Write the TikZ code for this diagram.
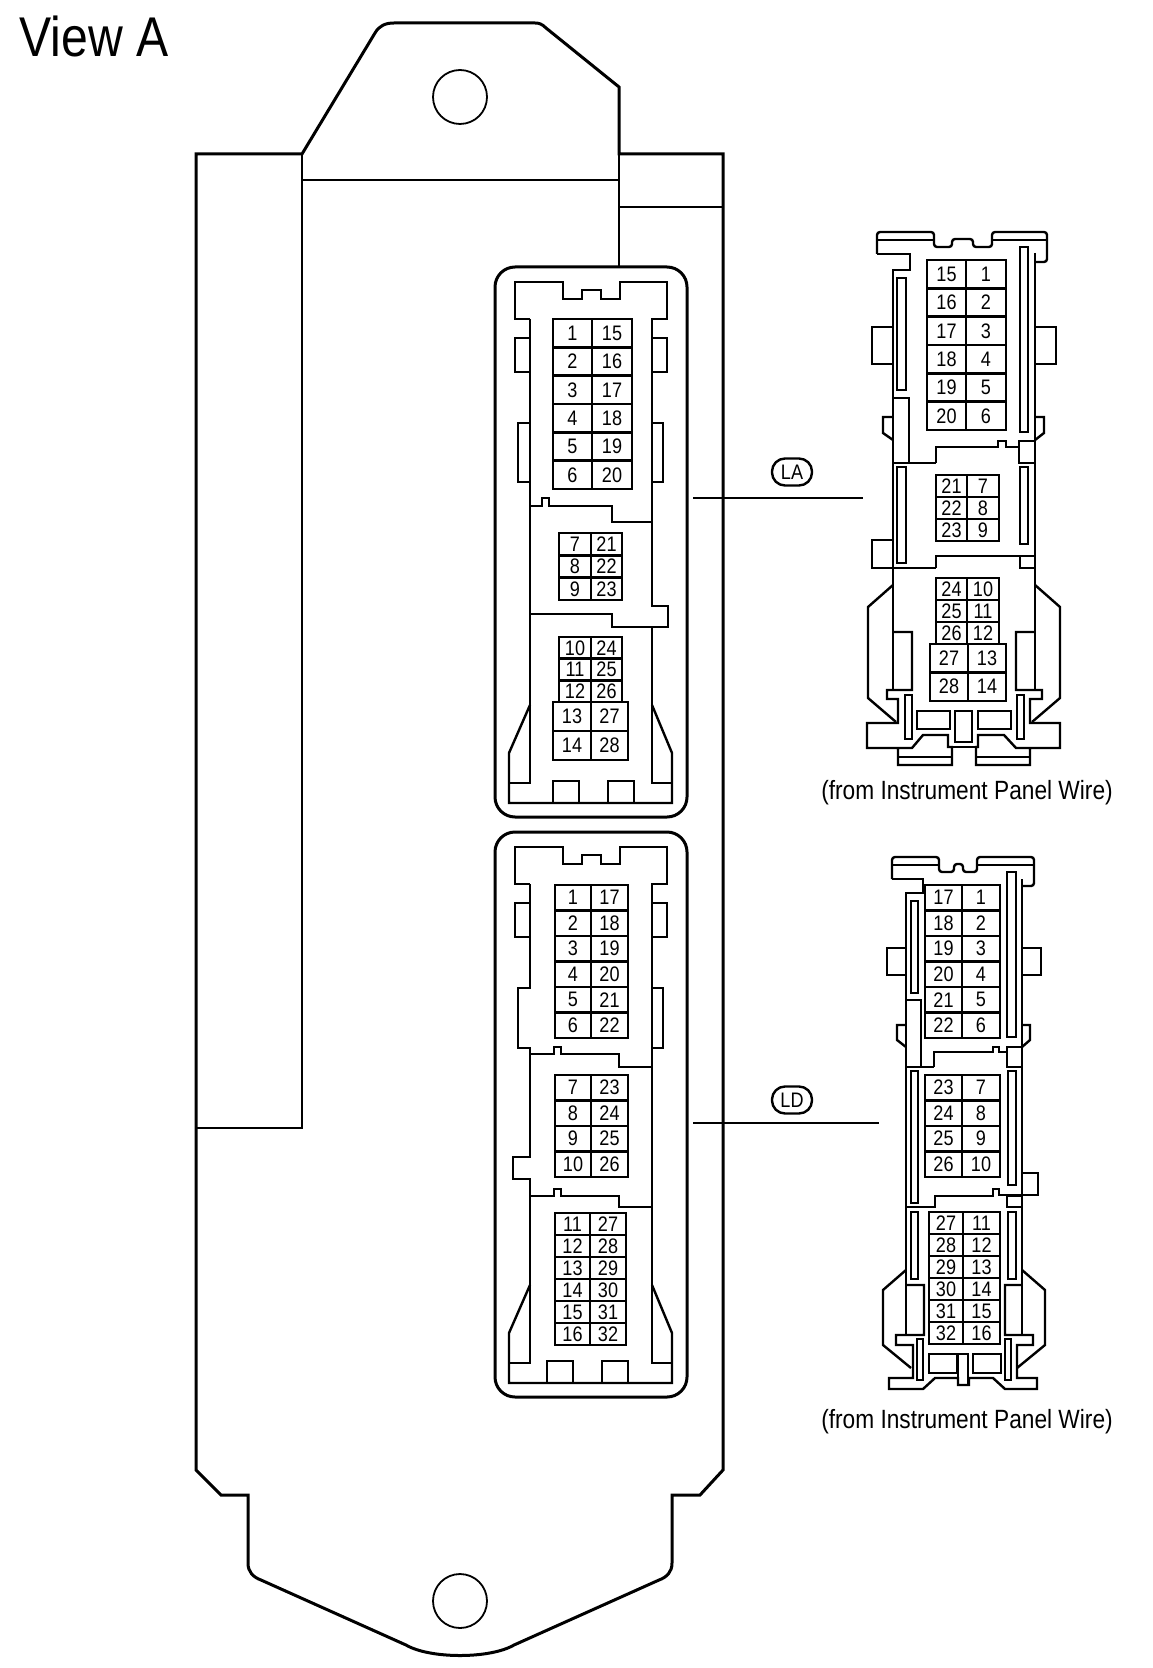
\documentclass[tikz,border=0pt]{standalone}
\usepackage{fontspec}
\setmainfont[FakeStretch=0.86]{Liberation Sans}

\tikzset{
	outline/.style={line width=1.5pt, line join=miter},
	thinline/.style={line width=0.9pt},
	housing/.style={line width=1.2pt, line join=miter},
	pincell/.style={line width=1.2pt},
	pinnum/.style={font=\fontsize{10.5}{10.5}\selectfont, inner sep=0pt},
	callout/.style={draw, line width=1.2pt, rounded corners=6.5pt, minimum width=20pt, minimum height=13.5pt, inner sep=0pt, font=\fontsize{10.5}{10.5}\selectfont},
	caption/.style={font=\fontsize{13.2}{14}\selectfont, inner sep=0pt},
}

% #1 prefix, #2 left x, #3 mid x, #4 right x, #5 top y, #6 row height, #7 pins
\newcommand{\pinrows}[7]{
	\foreach \pa/\pb [count=\i from 0] in {#7} {
		\pgfmathsetmacro{\ytop}{#5+\i*#6}
		\pgfmathsetmacro{\ybot}{#5+(\i+1)*#6}
		\draw[pincell] (#2,\ytop) rectangle (#3,\ybot) node[pos=0.5, pinnum] (#1a\pa) {\pa};
		\draw[pincell] (#3,\ytop) rectangle (#4,\ybot) node[pos=0.5, pinnum] (#1b\pb) {\pb};
	}
}

\begin{document}
\begin{tikzpicture}[x=0.5pt, y=-0.5pt]
	\useasboundingbox (0, 0) rectangle (1152, 1668);

	\node[anchor=west, inner sep=0pt, font=\fontsize{28}{28}\selectfont] (viewa) at (19, 36) {View A};

	% ecu body
	\draw[outline] (302, 154) -- (196, 154) -- (196, 1470) -- (221, 1495) -- (248, 1495) -- (248, 1563)
		.. controls (248, 1572) and (253, 1577) .. (261, 1580) -- (406, 1645)
		.. controls (430, 1659) and (490, 1659) .. (514, 1645) -- (659, 1580)
		.. controls (667, 1577) and (672, 1572) .. (672, 1563)
		-- (672, 1495) -- (700, 1495) -- (723, 1470) -- (723, 154) -- (619, 154) -- (619, 87) -- (546, 28)
		.. controls (542, 24) and (539, 23) .. (535, 23) -- (394, 23)
		.. controls (385, 23) and (379, 26) .. (375, 33) -- cycle;
	\draw[thinline] (302, 154) -- (302, 1128) -- (196, 1128);
	\draw[thinline] (302, 180) -- (619, 180);
	\draw[thinline] (619, 154) -- (619, 267);
	\draw[thinline] (619, 207) -- (723, 207);
	\draw[thinline] (460, 97) circle (27);
	\draw[thinline] (460, 1601) circle (27);

	% LA, on the ecu
	\draw[outline, rounded corners=10pt] (495, 267) rectangle (687, 817);
	\draw[housing] (530, 319) -- (515, 319) -- (515, 282) -- (563, 282) -- (563, 299) -- (582, 299) -- (582, 290) -- (601, 290) -- (601, 299) -- (620, 299) -- (620, 282) -- (667, 282) -- (667, 319) -- (652, 319) -- (652, 606) -- (668, 606) -- (668, 627) -- (612, 627) -- (612, 614) -- (530, 614);
	\draw[housing] (530, 319) -- (530, 783) -- (509, 783);
	\draw[housing] (652, 627) -- (652, 783) -- (672, 783);
	\draw[housing] (530, 338) -- (515, 338) -- (515, 372) -- (530, 372);
	\draw[housing] (652, 338) -- (667, 338) -- (667, 372) -- (652, 372);
	\draw[thinline] (530, 423) -- (518, 423) -- (518, 482) -- (530, 482);
	\draw[thinline] (652, 423) -- (663, 423) -- (663, 482) -- (652, 482);
	\draw[housing] (530, 506) -- (542, 506) -- (542, 498) -- (549, 498) -- (549, 506) -- (612, 506) -- (612, 522) -- (652, 522);
	\draw[housing] (530, 705) -- (509, 753) -- (509, 803) -- (672, 803) -- (672, 753) -- (652, 705);
	\draw[thinline] (553, 803) -- (553, 781) -- (579, 781) -- (579, 803);
	\draw[thinline] (608, 803) -- (608, 781) -- (634, 781) -- (634, 803);
	\pinrows{lam}{553}{592}{632}{319}{28.33}{1/15, 2/16, 3/17, 4/18, 5/19, 6/20}
	\pinrows{lam}{559}{591}{622}{533}{22.33}{7/21, 8/22, 9/23}
	\pinrows{lam}{559}{591}{622}{637}{21.67}{10/24, 11/25, 12/26}
	\pinrows{lam}{553}{591}{628}{702}{29}{13/27, 14/28}

	% LD, on the ecu
	\draw[outline, rounded corners=10pt] (495, 832) rectangle (687, 1397);
	\draw[housing] (530, 884) -- (515, 884) -- (515, 847) -- (563, 847) -- (563, 864) -- (582, 864) -- (582, 855) -- (601, 855) -- (601, 864) -- (620, 864) -- (620, 847) -- (667, 847) -- (667, 884) -- (652, 884) -- (652, 1363) -- (672, 1363);
	\draw[housing] (530, 884) -- (530, 988) -- (518, 988) -- (518, 1048) -- (530, 1048) -- (530, 1157) -- (513, 1157) -- (513, 1179) -- (530, 1179) -- (530, 1363) -- (509, 1363);
	\draw[housing] (530, 903) -- (515, 903) -- (515, 937) -- (530, 937);
	\draw[housing] (652, 903) -- (667, 903) -- (667, 937) -- (652, 937);
	\draw[thinline] (652, 988) -- (663, 988) -- (663, 1048) -- (652, 1048);
	\draw[housing] (530, 1054) -- (554, 1054) -- (554, 1047) -- (561, 1047) -- (561, 1054) -- (619, 1054) -- (619, 1067) -- (652, 1067);
	\draw[housing] (530, 1196) -- (554, 1196) -- (554, 1189) -- (561, 1189) -- (561, 1196) -- (619, 1196) -- (619, 1207) -- (652, 1207);
	\draw[housing] (530, 1285) -- (509, 1333) -- (509, 1383) -- (672, 1383) -- (672, 1333) -- (652, 1285);
	\draw[thinline] (547, 1383) -- (547, 1361) -- (573, 1361) -- (573, 1383);
	\draw[thinline] (602, 1383) -- (602, 1361) -- (628, 1361) -- (628, 1383);
	\pinrows{ldm}{555}{591}{628}{885}{25.5}{1/17, 2/18, 3/19, 4/20, 5/21, 6/22}
	\pinrows{ldm}{555}{591}{628}{1075}{25.5}{7/23, 8/24, 9/25, 10/26}
	\pinrows{ldm}{555}{590}{626}{1213}{22}{11/27, 12/28, 13/29, 14/30, 15/31, 16/32}

	% LA, wire side
	\draw[housing, rounded corners=1.5pt] (877, 254) -- (877, 232) -- (934, 232) -- (934, 247) -- (952, 247) -- (952, 239) -- (973, 239) -- (973, 247) -- (992, 247) -- (992, 232) -- (1047, 232) -- (1047, 262) -- (1035, 262);
	\draw[housing] (877, 254) -- (910, 254) -- (910, 270) -- (893, 270) -- (893, 690);
	\draw[thinline] (877, 240) -- (934, 240);
	\draw[thinline] (992, 240) -- (1047, 240);
	\draw[housing] (1035, 253) -- (1035, 690);
	\draw[housing] (893, 327) -- (872, 327) -- (872, 364) -- (893, 364);
	\draw[housing] (1035, 327) -- (1056, 327) -- (1056, 364) -- (1035, 364);
	\draw[housing] (897, 278) rectangle (906, 390);
	\draw[housing] (1020, 247) rectangle (1028, 432);
	\draw[thinline] (893, 398) -- (909, 398) -- (909, 463);
	\draw[housing] (893, 417) -- (883, 417) -- (883, 433) -- (893, 440);
	\draw[housing] (1035, 417) -- (1044, 417) -- (1044, 433) -- (1035, 440);
	\draw[thinline] (893, 463) -- (936, 463);
	\draw[housing] (936, 463) -- (936, 447) -- (998, 447) -- (998, 441) -- (1006, 441) -- (1006, 447) -- (1019, 447);
	\draw[thinline] (1019, 441) rectangle (1035, 463);
	\draw[housing] (897, 467) rectangle (906, 563);
	\draw[housing] (1020, 467) rectangle (1028, 544);
	\draw[housing] (893, 540) -- (872, 540) -- (872, 568) -- (893, 568);
	\draw[thinline] (872, 568) -- (936, 568);
	\draw[housing] (936, 568) -- (936, 556) -- (1035, 556);
	\draw[thinline] (1020, 556) rectangle (1035, 568);
	\draw[housing] (893, 585) -- (868, 607) -- (868, 698) -- (896, 722);
	\draw[housing] (1035, 585) -- (1060, 607) -- (1060, 698) -- (1032, 722);
	\draw[housing] (893, 632) -- (912, 632) -- (912, 690) -- (887, 690) -- (887, 699) -- (898, 699) -- (898, 723) -- (867, 723) -- (867, 748) -- (898, 748) -- (898, 765) -- (952, 765) -- (952, 747) -- (948, 747) -- (948, 735) -- (923, 735) -- (912, 748) -- (898, 748);
	\draw[housing] (1035, 632) -- (1016, 632) -- (1016, 690) -- (1042, 690) -- (1042, 699) -- (1030, 699) -- (1030, 723) -- (1060, 723) -- (1060, 748) -- (1030, 748) -- (1030, 765) -- (976, 765) -- (976, 747) -- (978, 747) -- (978, 735) -- (1004, 735) -- (1016, 748) -- (1030, 748);
	\draw[housing] (948, 747) -- (978, 747);
	\draw[thinline] (898, 757) -- (952, 757);
	\draw[thinline] (976, 757) -- (1030, 757);
	\draw[housing] (917, 711) rectangle (950, 729);
	\draw[housing] (978, 711) rectangle (1011, 729);
	\draw[housing] (955, 711) rectangle (972, 742);
	\draw[thinline] (905, 695) rectangle (912, 739);
	\draw[thinline] (1017, 695) rectangle (1024, 739);
	\pinrows{law}{927}{966}{1006}{260}{28.33}{15/1, 16/2, 17/3, 18/4, 19/5, 20/6}
	\pinrows{law}{936}{967}{999}{475}{22}{21/7, 22/8, 23/9}
	\pinrows{law}{936}{967}{999}{578}{22}{24/10, 25/11, 26/12}
	\pinrows{law}{930}{968}{1006}{644}{28.5}{27/13, 28/14}

	% LD, wire side
	\draw[housing, rounded corners=1.5pt] (892, 879) -- (892, 857) -- (939, 857) -- (939, 872) -- (954, 872) -- (954, 864) -- (963, 864) -- (963, 872) -- (977, 872) -- (977, 857) -- (1034, 857) -- (1034, 886) -- (1022, 886);
	\draw[housing] (892, 879) -- (923, 879) -- (923, 893) -- (906, 893) -- (906, 1335);
	\draw[thinline] (892, 865) -- (939, 865);
	\draw[thinline] (977, 865) -- (1034, 865);
	\draw[housing] (1022, 879) -- (1022, 1335);
	\draw[housing] (906, 948) -- (887, 948) -- (887, 975) -- (906, 975);
	\draw[housing] (1022, 948) -- (1041, 948) -- (1041, 975) -- (1022, 975);
	\draw[housing] (911, 901) rectangle (918, 993);
	\draw[housing] (1007, 872) rectangle (1016, 1037);
	\draw[thinline] (906, 1000) -- (921, 1000) -- (921, 1067);
	\draw[housing] (906, 1025) -- (897, 1025) -- (897, 1040) -- (906, 1047);
	\draw[housing] (1022, 1025) -- (1030, 1025) -- (1030, 1040) -- (1022, 1047);
	\draw[thinline] (906, 1067) -- (934, 1067);
	\draw[housing] (934, 1067) -- (934, 1052) -- (993, 1052) -- (993, 1047) -- (999, 1047) -- (999, 1052) -- (1007, 1052);
	\draw[thinline] (1007, 1047) rectangle (1022, 1067);
	\draw[housing] (911, 1071) rectangle (918, 1203);
	\draw[housing] (1008, 1071) rectangle (1016, 1185);
	\draw[housing] (1022, 1173) -- (1038, 1173) -- (1038, 1195) -- (999, 1195) -- (999, 1189) -- (993, 1189) -- (993, 1196) -- (935, 1196) -- (935, 1207) -- (906, 1207);
	\draw[thinline] (1007, 1196) rectangle (1022, 1207);
	\draw[housing] (911, 1212) rectangle (918, 1279);
	\draw[housing] (1008, 1212) rectangle (1016, 1279);
	\draw[housing] (906, 1270) -- (883, 1290) -- (883, 1345) -- (911, 1368);
	\draw[housing] (1022, 1270) -- (1045, 1290) -- (1045, 1345) -- (1017, 1368);
	\draw[housing] (906, 1285) -- (924, 1285) -- (924, 1335) -- (896, 1335) -- (896, 1345) -- (913, 1345) -- (913, 1378) -- (889, 1378) -- (889, 1389) -- (923, 1389) -- (935, 1378) -- (958, 1378) -- (958, 1385) -- (969, 1385) -- (969, 1378) -- (993, 1378) -- (1005, 1389) -- (1037, 1389) -- (1037, 1378) -- (1017, 1378) -- (1017, 1345) -- (1033, 1345) -- (1033, 1335) -- (1005, 1335) -- (1005, 1285) -- (1022, 1285);
	\draw[housing] (929, 1354) rectangle (957, 1373);
	\draw[housing] (973, 1354) rectangle (1001, 1373);
	\draw[housing] (958, 1354) rectangle (968, 1385);
	\draw[thinline] (917, 1339) rectangle (923, 1380);
	\draw[thinline] (1005, 1339) rectangle (1011, 1380);
	\pinrows{ldw}{925}{962}{1000}{885}{25.5}{17/1, 18/2, 19/3, 20/4, 21/5, 22/6}
	\pinrows{ldw}{925}{962}{1000}{1075}{25.5}{23/7, 24/8, 25/9, 26/10}
	\pinrows{ldw}{929}{963}{1000}{1212}{22}{27/11, 28/12, 29/13, 30/14, 31/15, 32/16}

	% callouts
	\node[callout] (la) at (792, 472) {LA};
	\node[callout] (ld) at (792, 1100) {LD};
	\coordinate (lafrom) at (693, 498);
	\coordinate (lato) at (863, 498);
	\coordinate (ldfrom) at (693, 1123);
	\coordinate (ldto) at (879, 1123);
	\draw[thinline] (lafrom) -- (lato);
	\draw[thinline] (ldfrom) -- (ldto);

	\node[caption] (lawire) at (967, 793) {(from Instrument Panel Wire)};
	\node[caption] (ldwire) at (967, 1422) {(from Instrument Panel Wire)};
\end{tikzpicture}
\end{document}
